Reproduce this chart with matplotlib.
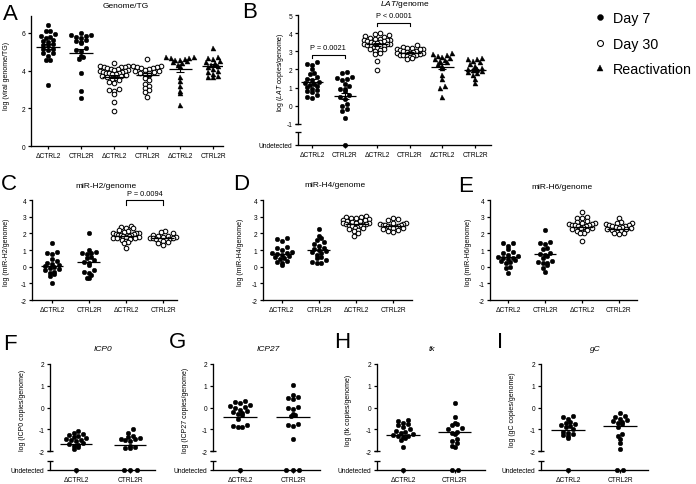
import numpy as np
import matplotlib
matplotlib.use('Agg')
import matplotlib.pyplot as plt
from matplotlib.lines import Line2D

plt.rcParams['font.family'] = ['Liberation Sans', 'DejaVu Sans']
plt.rcParams['mathtext.fontset'] = 'custom'
plt.rcParams['mathtext.rm'] = 'Liberation Sans'
plt.rcParams['mathtext.it'] = 'Liberation Sans:italic'

# ---------------- data ----------------
cats_six = ['ΔCTRL2', 'CTRL2R', 'ΔCTRL2', 'CTRL2R', 'ΔCTRL2', 'CTRL2R']
cats_four = cats_six[:4]
cats_two = cats_six[:2]
kinds_six = ['Day 7', 'Day 7', 'Day 30', 'Day 30', 'Reactivation', 'Reactivation']
kinds_four = kinds_six[:4]
kinds_two = ['Day 7', 'Day 7']
legend_labels = ['Day 7', 'Day 30', 'Reactivation']

# A: Genome/TG
A_vals = [
    [6.44, 6.10, 6.10, 5.96, 5.82, 5.78, 5.75, 5.60, 5.55, 5.52, 5.43, 5.34, 5.34, 5.16, 5.16, 5.07, 4.93, 4.93, 4.77, 4.57, 4.57, 3.24],
    [6.0, 5.9, 5.88, 5.85, 5.8, 5.75, 5.65, 5.55, 5.5, 5.45, 5.2, 5.1, 5.05, 4.8, 4.75, 4.6, 3.9, 2.9, 2.55],
    [4.38, 4.25, 4.22, 4.2, 4.2, 4.18, 4.15, 4.1, 4.08, 4.05, 4.02, 4.0, 3.98, 3.95, 3.92, 3.9, 3.88, 3.85, 3.82, 3.8, 3.75, 3.72, 3.7, 3.65, 3.6, 3.55, 3.5, 3.4, 3.35, 3.05, 2.98, 2.92, 2.75, 2.35, 1.85],
    [4.62, 4.25, 4.22, 4.2, 4.18, 4.15, 4.12, 4.1, 4.05, 4.0, 3.98, 3.95, 3.9, 3.85, 3.8, 3.78, 3.6, 3.5, 3.3, 3.2, 3.1, 2.95, 2.85, 2.6],
    [4.72, 4.7, 4.68, 4.65, 4.6, 4.55, 4.55, 4.5, 4.45, 4.4, 4.3, 4.25, 3.65, 3.45, 3.2, 2.9, 2.8, 2.2],
    [5.2, 4.7, 4.65, 4.6, 4.5, 4.45, 4.4, 4.3, 4.25, 4.2, 4.1, 4.0, 3.95, 3.8, 3.7, 3.65, 3.65],
]
A_mean = [5.28, 4.95, 3.68, 3.77, 4.1, 4.27]
A_err = [0.15, 0.2, 0.08, 0.08, 0.18, 0.1]
A_yticks = [0, 2, 4, 6]

# B: LAT/genome
B_vals = [
    [2.4, 2.3, 2.25, 2.05, 1.8, 1.75, 1.6, 1.5, 1.4, 1.3, 1.25, 1.2, 1.15, 1.1, 1.05, 0.9, 0.85, 0.8, 0.75, 0.6, 0.5, 0.45],
    [1.85, 1.8, 1.6, 1.55, 1.5, 1.4, 1.2, 1.1, 0.95, 0.9, 0.8, 0.6, 0.5, 0.4, 0.1, 0.0, -0.15, -0.3, -0.65],
    [4.0, 3.95, 3.9, 3.85, 3.8, 3.75, 3.7, 3.68, 3.65, 3.62, 3.6, 3.58, 3.55, 3.52, 3.5, 3.48, 3.45, 3.42, 3.4, 3.38, 3.35, 3.32, 3.3, 3.28, 3.25, 3.2, 3.15, 3.1, 3.05, 3.0, 2.9, 2.85, 2.45, 1.95],
    [3.35, 3.25, 3.2, 3.18, 3.15, 3.12, 3.1, 3.05, 3.02, 3.0, 2.98, 2.95, 2.92, 2.9, 2.88, 2.85, 2.82, 2.8, 2.78, 2.75, 2.72, 2.7, 2.65, 2.6],
    [2.9, 2.85, 2.8, 2.75, 2.7, 2.65, 2.6, 2.5, 2.45, 2.4, 2.3, 2.2, 2.1, 1.7, 1.5, 1.1, 1.0, 0.5],
    [2.65, 2.6, 2.55, 2.45, 2.4, 2.3, 2.2, 2.1, 2.05, 2.0, 1.95, 1.9, 1.85, 1.8, 1.7, 1.5, 1.25],
]
B_undet = [0, 1, 0, 0, 0, 0]
B_mean = [1.33, 0.55, 3.38, 2.92, 2.16, 1.95]
B_err = [0.12, 0.15, 0.06, 0.04, 0.15, 0.1]
B_yticks = [-1, 0, 1, 2, 3, 4, 5]
B_pvals = ['P = 0.0021', 'P < 0.0001']

# C: miR-H2/genome
C_vals = [
    [1.4, 0.9, 0.8, 0.75, 0.45, 0.35, 0.25, 0.15, 0.1, 0.05, 0.0, -0.05, -0.15, -0.2, -0.3, -0.35, -0.45, -0.55, -1.0],
    [2.05, 1.0, 0.9, 0.85, 0.85, 0.75, 0.6, 0.55, 0.4, 0.3, 0.2, 0.1, -0.2, -0.3, -0.4, -0.5, -0.65, -0.7],
    [2.45, 2.4, 2.35, 2.3, 2.2, 2.15, 2.1, 2.05, 2.02, 2.0, 1.98, 1.95, 1.92, 1.9, 1.88, 1.85, 1.82, 1.8, 1.78, 1.75, 1.72, 1.7, 1.65, 1.6, 1.55, 1.5, 1.45, 1.15],
    [2.15, 2.1, 2.05, 1.9, 1.85, 1.82, 1.8, 1.78, 1.75, 1.72, 1.7, 1.68, 1.65, 1.62, 1.6, 1.55, 1.5, 1.45, 1.3],
]
C_mean = [0.05, 0.3, 1.86, 1.7]
C_pval = 'P = 0.0094'

# D: miR-H4/genome
D_vals = [
    [1.75, 1.65, 1.55, 1.2, 1.1, 1.0, 0.9, 0.85, 0.8, 0.75, 0.7, 0.65, 0.6, 0.55, 0.45, 0.35, 0.3, 0.2, 0.1],
    [2.25, 1.85, 1.75, 1.6, 1.5, 1.35, 1.25, 1.1, 1.05, 1.0, 0.95, 0.9, 0.8, 0.7, 0.6, 0.5, 0.4, 0.3, 0.25, 0.2],
    [3.05, 3.0, 2.98, 2.95, 2.9, 2.85, 2.82, 2.8, 2.75, 2.72, 2.7, 2.65, 2.62, 2.6, 2.58, 2.55, 2.52, 2.5, 2.48, 2.45, 2.4, 2.35, 2.3, 2.25, 2.2, 2.15, 2.05, 1.85],
    [2.9, 2.85, 2.8, 2.65, 2.6, 2.58, 2.55, 2.52, 2.5, 2.48, 2.45, 2.42, 2.4, 2.38, 2.35, 2.3, 2.25, 2.2, 2.15, 2.1],
]
D_mean = [0.77, 1.0, 2.57, 2.47]

# E: miR-H6/genome
E_vals = [
    [1.45, 1.4, 1.25, 1.05, 0.9, 0.85, 0.7, 0.65, 0.6, 0.55, 0.5, 0.45, 0.4, 0.35, 0.3, 0.2, 0.0, -0.05, -0.35],
    [2.2, 1.5, 1.4, 1.35, 1.1, 1.05, 0.8, 0.75, 0.7, 0.65, 0.5, 0.35, 0.3, 0.25, 0.2, 0.1, -0.1, -0.3],
    [3.3, 3.0, 2.95, 2.9, 2.75, 2.7, 2.65, 2.6, 2.58, 2.55, 2.52, 2.5, 2.48, 2.45, 2.42, 2.4, 2.35, 2.3, 2.25, 2.2, 2.15, 2.1, 2.05, 2.0, 1.55],
    [2.9, 2.7, 2.65, 2.6, 2.55, 2.5, 2.48, 2.45, 2.42, 2.4, 2.38, 2.35, 2.3, 2.28, 2.25, 2.2, 2.15, 2.1, 2.05, 2.0, 1.95],
]
E_mean = [0.6, 0.75, 2.4, 2.28]
mir_yticks = [-2, -1, 0, 1, 2, 3, 4]

# F-I: transcripts/genome
F_vals = [
    [-1.05, -1.15, -1.2, -1.25, -1.3, -1.35, -1.4, -1.45, -1.5, -1.5, -1.55, -1.6, -1.65, -1.7, -1.75, -1.8, -1.9],
    [-1.0, -1.15, -1.3, -1.35, -1.4, -1.45, -1.45, -1.5, -1.55, -1.75, -1.8, -1.85, -1.85],
]
F_undet = [1, 3]
F_mean = [-1.68, -1.73]
G_vals = [
    [0.3, 0.25, 0.2, 0.1, 0.08, 0.05, 0.0, -0.1, -0.15, -0.2, -0.25, -0.3, -0.35, -0.5, -0.8, -0.85, -0.9, -0.9],
    [1.05, 0.6, 0.5, 0.45, 0.4, 0.05, 0.0, -0.05, -0.3, -0.35, -0.4, -0.75, -0.8, -0.85, -1.45],
]
G_undet = [1, 3]
G_mean = [-0.45, -0.45]
H_vals = [
    [-0.55, -0.6, -0.7, -0.75, -0.8, -0.9, -1.0, -1.05, -1.1, -1.15, -1.2, -1.25, -1.3, -1.3, -1.35, -1.4, -1.5, -1.8],
    [0.2, -0.45, -0.7, -0.75, -0.8, -0.95, -1.0, -1.1, -1.15, -1.2, -1.45, -1.55, -1.6, -1.75, -1.8],
]
H_undet = [1, 2]
H_mean = [-1.24, -1.1]
I_vals = [
    [-0.4, -0.45, -0.5, -0.65, -0.7, -0.75, -0.8, -0.85, -0.9, -1.0, -1.1, -1.15, -1.2, -1.25, -1.3, -1.4],
    [-0.25, -0.4, -0.45, -0.5, -0.55, -0.6, -0.65, -0.7, -0.75, -0.9, -1.2, -1.3, -1.45, -1.6, -1.9],
]
I_undet = [1, 2]
I_mean = [-1.02, -0.86]
tx_yticks = [-2, -1, 0, 1, 2]

# ---------------- figure ----------------
W, H, DPI = 696, 485, 100
fig = plt.figure(figsize=(W / DPI, H / DPI), dpi=DPI)
fig.patch.set_facecolor('white')

TICK_FS = 4.8
LAB_FS = 5.0
TITLE_FS = 6.0
LET_FS = 16
P_FS = 5.3

STYLE = {
    'Day 7': dict(marker='o', ms=3.3, mfc='black', mec='black', mew=0.3),
    'Day 30': dict(marker='o', ms=3.3, mfc='white', mec='black', mew=0.75),
    'Reactivation': dict(marker='^', ms=3.6, mfc='black', mec='black', mew=0.3),
}
ROW_H = 4.6       # px height of a scatter row
DOT_GAP = 4.8     # px between neighbours in a row
UNDET_GAP = 6.5


def px_axes(l, t, r, b):
    return fig.add_axes([l / W, 1 - b / H, (r - l) / W, (b - t) / H])


def row_offsets(ypx, maxw):
    """Prism-like scatter: points binned in rows, spread side by side."""
    ypx = np.asarray(ypx, float)
    xs = np.zeros(len(ypx))
    bins = np.round(ypx / ROW_H).astype(int)
    for bval in np.unique(bins):
        idx = np.where(bins == bval)[0]
        idx = idx[np.argsort(ypx[idx], kind='stable')]
        n = len(idx)
        if n == 1:
            continue
        gap = min(DOT_GAP, maxw / (n - 1))
        offs = (np.arange(n) - (n - 1) / 2) * gap
        order = np.argsort(np.abs(offs) + 1e-3 * offs, kind='stable')
        xs[idx] = offs[order]
    return xs


def panel(box, xlim, ylim, cats, kinds, groups, means, yticks, errs=None,
          undet=None, brk=None, hw=0.34, maxw=26):
    l, t, r, b = box
    ax = px_axes(l, t, r, b)
    ax.set_xlim(xlim)
    ax.set_ylim(ylim)
    ax.patch.set_visible(False)
    sx = (r - l) / (xlim[1] - xlim[0])
    sy = (b - t) / (ylim[1] - ylim[0])
    for i, vals in enumerate(groups):
        v = np.array(vals, float)
        dx = row_offsets(v * sy, maxw) / sx
        ax.plot(i + dx, v, ls='none', clip_on=False, zorder=3, **STYLE[kinds[i]])
        if undet is not None and undet[i] > 0:
            u = np.full(undet[i], ylim[0])
            ux = (np.arange(undet[i]) - (undet[i] - 1) / 2) * UNDET_GAP / sx
            ax.plot(i + ux, u, ls='none', clip_on=False, zorder=3, **STYLE[kinds[i]])
        ax.plot([i - hw, i + hw], [means[i], means[i]], color='black', lw=0.9,
                zorder=4, solid_capstyle='butt')
        if errs is not None:
            ax.errorbar([i], [means[i]], yerr=[errs[i]], fmt='none', ecolor='black',
                        elinewidth=0.8, capsize=3.0, capthick=0.8, zorder=4)
    for s in ('top', 'right'):
        ax.spines[s].set_visible(False)
    for s in ('left', 'bottom'):
        ax.spines[s].set_linewidth(0.95)
    ax.set_xticks(range(len(cats)))
    ax.set_xticklabels(cats)
    ticks = list(yticks)
    labels = [str(v) for v in yticks]
    if brk is not None:
        ticks = [ylim[0]] + ticks
        labels = ['Undetected'] + labels
        ax.spines['left'].set_bounds(brk[0], ylim[1])
        ax.plot([xlim[0], xlim[0]], [ylim[0], brk[1]], color='black', lw=0.95,
                clip_on=False, solid_capstyle='butt')
        ax.plot([xlim[0], xlim[0]], [brk[0], brk[1]], ls='none', marker='_',
                ms=5, mew=0.95, color='black', clip_on=False)
    ax.set_yticks(ticks)
    ax.set_yticklabels(labels)
    ax.tick_params(axis='both', direction='out', length=2.5, width=0.9,
                   labelsize=TICK_FS, pad=1.5)
    return ax


def ftext(x, y, s, **kw):
    fig.text(x / W, 1 - y / H, s, ha='center', va='center', **kw)


def bracket(ax, x1, x2, ytop, yend, ytext, label):
    ax.plot([x1, x1, x2, x2], [yend, ytop, ytop, yend], color='black', lw=0.8,
            clip_on=False)
    ax.text((x1 + x2) / 2, ytext, label, ha='center', va='center', fontsize=P_FS)


# A
axA = panel((31, 17, 223, 147), (-0.515, 5.30), (0, 6.9), cats_six, kinds_six,
            A_vals, A_mean, A_yticks, errs=A_err, hw=0.35, maxw=28)
# B
axB = panel((298, 16, 491, 146), (-0.43, 5.49), (-2.16, 5.0), cats_six, kinds_six,
            B_vals, B_mean, B_yticks, errs=B_err, undet=B_undet, brk=(-1.0, -1.44),
            hw=0.34, maxw=26)
bracket(axB, 0, 1, 2.8, 2.64, 3.19, B_pvals[0])
bracket(axB, 2, 3, 4.57, 4.4, 4.95, B_pvals[1])
# C, D, E
axC = panel((32, 201, 177, 301), (-0.54, 3.38), (-2, 4), cats_four, kinds_four,
            C_vals, C_mean, mir_yticks, hw=0.31, maxw=26)
bracket(axC, 2, 3, 3.98, 3.7, 4.38, C_pval)
axD = panel((263, 201, 412, 301), (-0.51, 3.51), (-2, 4), cats_four, kinds_four,
            D_vals, D_mean, mir_yticks, hw=0.31, maxw=26)
axE = panel((490, 201, 637, 301), (-0.49, 3.49), (-2, 4), cats_four, kinds_four,
            E_vals, E_mean, mir_yticks, hw=0.31, maxw=26)
# F-I
tx_ylim = (-2.86, 2)
tx_brk = (-2.0, -2.46)
axF = panel((50, 365, 155, 471), (-0.48, 1.46), tx_ylim, cats_two, kinds_two,
            F_vals, F_mean, tx_yticks, undet=F_undet, brk=tx_brk, hw=0.3, maxw=28)
axG = panel((213, 365, 320, 471), (-0.51, 1.51), tx_ylim, cats_two, kinds_two,
            G_vals, G_mean, tx_yticks, undet=G_undet, brk=tx_brk, hw=0.33, maxw=28)
axH = panel((377, 365, 485, 471), (-0.5, 1.58), tx_ylim, cats_two, kinds_two,
            H_vals, H_mean, tx_yticks, undet=H_undet, brk=tx_brk, hw=0.32, maxw=28)
axI = panel((541, 365, 648, 471), (-0.52, 1.54), tx_ylim, cats_two, kinds_two,
            I_vals, I_mean, tx_yticks, undet=I_undet, brk=tx_brk, hw=0.32, maxw=28)

# titles
ftext(126, 6, 'Genome/TG', fontsize=TITLE_FS)
ftext(405, 5, r'$\mathit{LAT}$/genome', fontsize=TITLE_FS)
ftext(106, 187, 'miR-H2/genome', fontsize=TITLE_FS)
ftext(335, 186, 'miR-H4/genome', fontsize=TITLE_FS)
ftext(562, 188, 'miR-H6/genome', fontsize=TITLE_FS)
ftext(103, 350, 'ICP0', fontsize=TITLE_FS, style='italic')
ftext(268, 350, 'ICP27', fontsize=TITLE_FS, style='italic')
ftext(432, 350, 'tk', fontsize=TITLE_FS, style='italic')
ftext(595, 350, 'gC', fontsize=TITLE_FS, style='italic')

# y labels
ftext(7, 76, 'log (viral genome/TG)', fontsize=LAB_FS, rotation=90)
ftext(280, 72, r'log ($\mathit{LAT}$ copies/genome)', fontsize=LAB_FS, rotation=90)
ftext(7, 252, 'log (miR-H2/genome)', fontsize=LAB_FS, rotation=90)
ftext(241, 252, 'log (miR-H4/genome)', fontsize=LAB_FS, rotation=90)
ftext(468, 252, 'log (miR-H6/genome)', fontsize=LAB_FS, rotation=90)
ftext(22, 410, 'log (ICP0 copies/genome)', fontsize=LAB_FS, rotation=90)
ftext(186, 410, 'log (ICP27 copies/genome)', fontsize=LAB_FS, rotation=90)
ftext(348, 410, 'log (tk copies/genome)', fontsize=LAB_FS, rotation=90)
ftext(513, 410, 'log (gC copies/genome)', fontsize=LAB_FS, rotation=90)

# panel letters
for letter, x, y in [('A', 10, 14), ('B', 250, 13), ('C', 9, 185), ('D', 241, 185),
                     ('E', 466, 187), ('F', 10, 345), ('G', 177, 343),
                     ('H', 342, 343), ('I', 500, 343)]:
    ftext(x, y, letter, fontsize=LET_FS)

# legend
handles = [Line2D([], [], ls='none', **dict(STYLE[k], ms=STYLE[k]['ms'] * 1.3))
           for k in legend_labels]
fig.legend(handles, legend_labels, loc='upper left',
           bbox_to_anchor=(593 / W, 1 - 12 / H), frameon=False, fontsize=10.3,
           handlelength=1.0, handletextpad=0.4, labelspacing=0.82,
           borderpad=0, borderaxespad=0)

fig.savefig('out.png', dpi=DPI, facecolor='white')
